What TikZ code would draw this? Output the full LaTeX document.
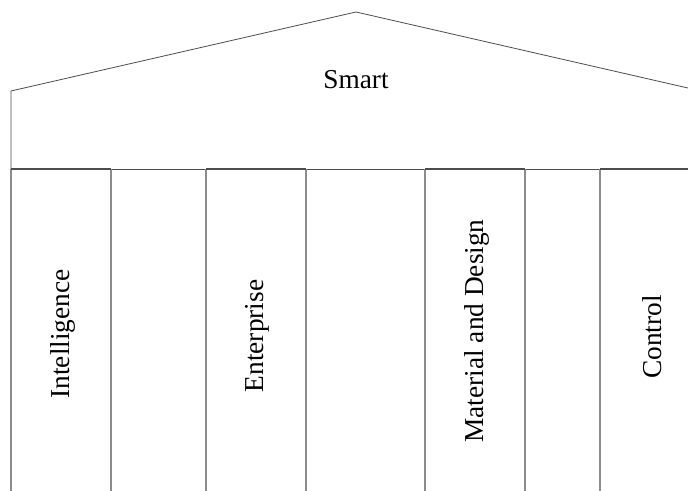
\documentclass[tikz,border=0pt]{standalone}
\usepackage{fontspec}
\setmainfont{Liberation Serif}
\begin{document}
\begin{tikzpicture}[x=0.75pt, y=0.75pt, font=\fontsize{20.5}{24}\selectfont,
  roofline/.style={draw=black!70, line width=0.6pt},
  pillar/.style={draw=black!45, line width=0.9pt},
  pillartop/.style={draw=black!70, line width=1.4pt}]
  \useasboundingbox (0,0) rectangle (688,491);
  \clip (0,0) rectangle (688,491);
  % roof
  \draw[roofline] (11,322) -- (11,400) -- (356,479) -- (701,400) -- (701,322);
  \draw[roofline] (11,322) -- (701,322);
  \node (smart) at (356,411) {Smart};
  % pillars
  \foreach \xa/\xb in {11/111, 206/306, 425/525, 600/700} {
    \draw[pillar] (\xa,-2) -- (\xa,322) (\xb,322) -- (\xb,-2);
    \draw[pillartop] (\xa,322) -- (\xb,322);
  }
  \node[rotate=90] (intel) at (63,157) {Intelligence};
  \node[rotate=90] (enter) at (257,155) {Enterprise};
  \node[rotate=90] (matdes) at (477,160) {Material and Design};
  \node[rotate=90] (ctrl) at (652,154) {Control};
\end{tikzpicture}
\end{document}
